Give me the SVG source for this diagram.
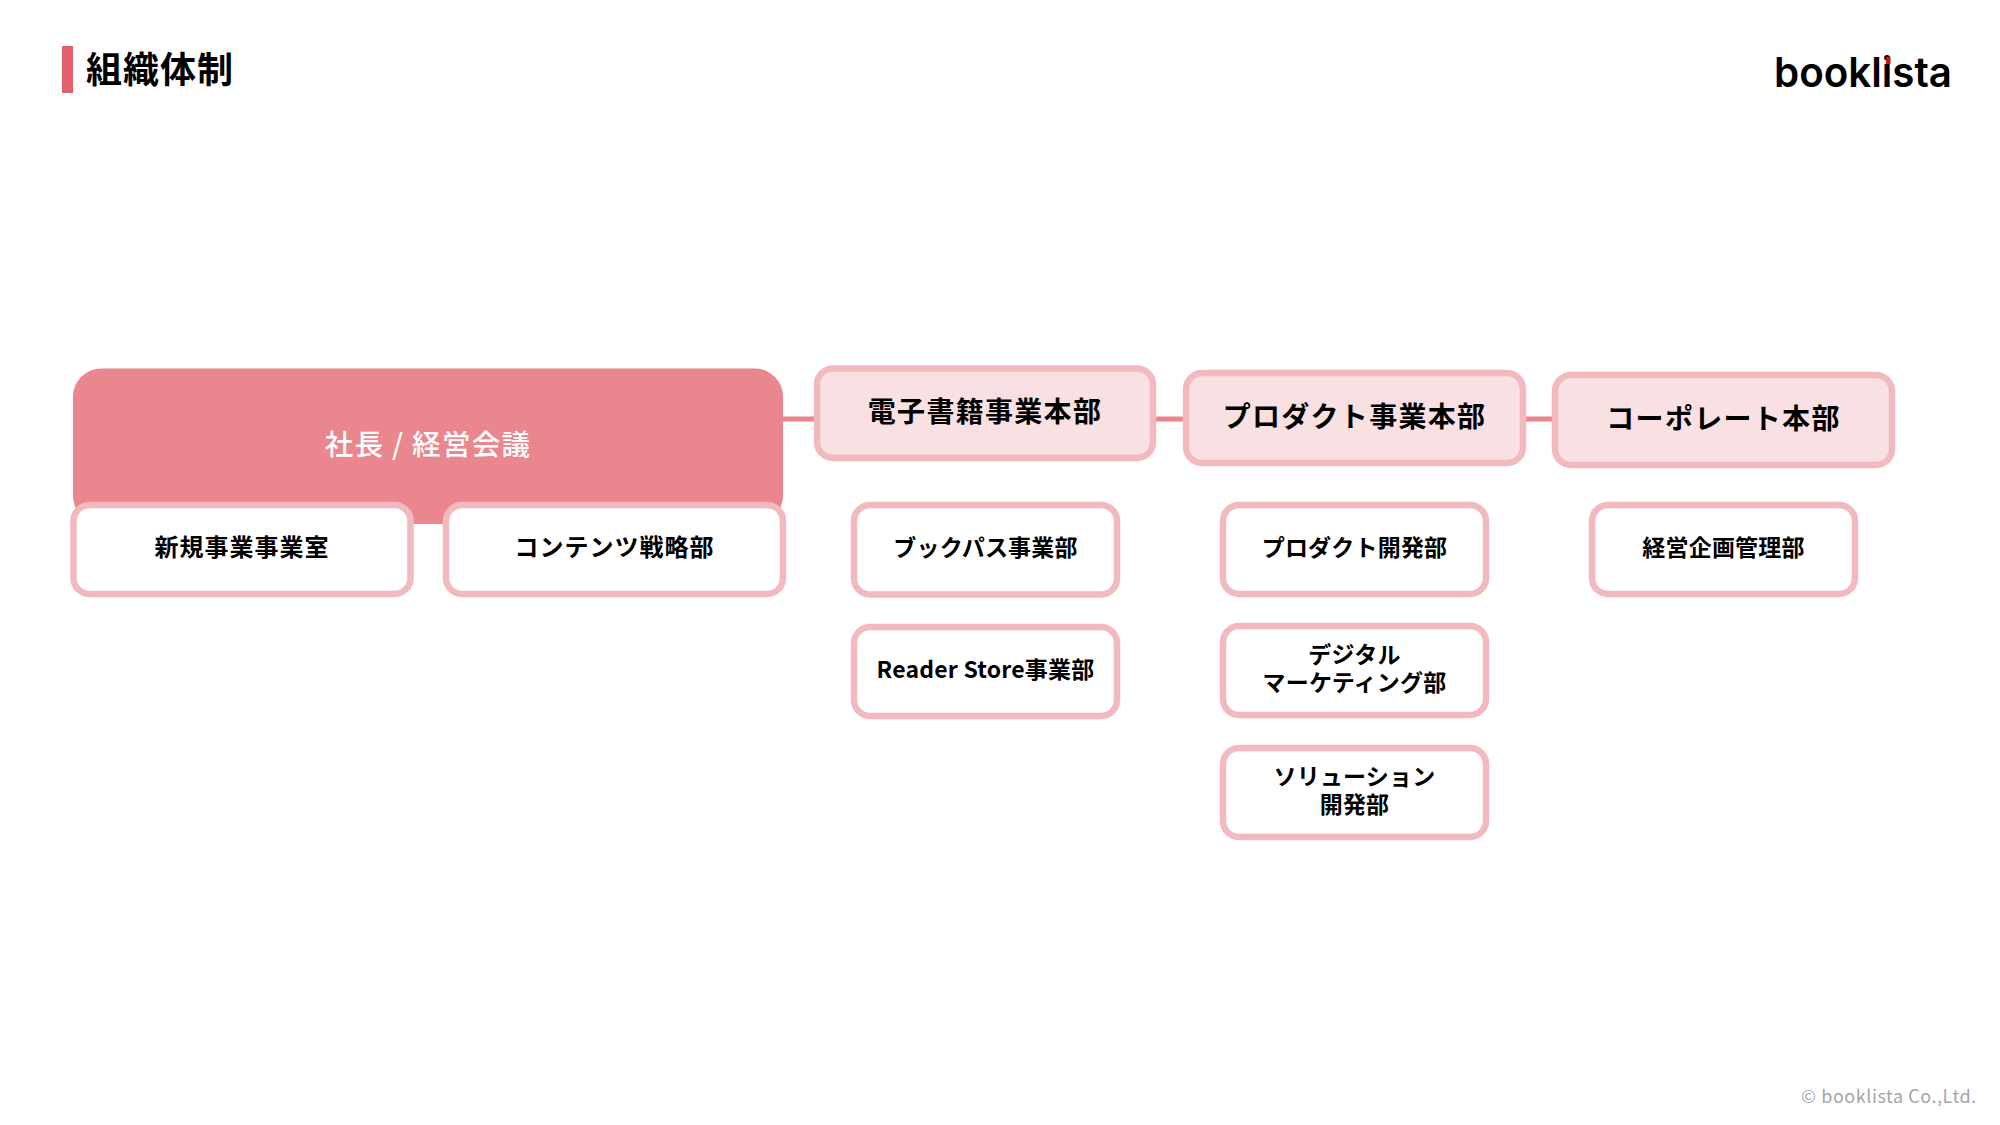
<svg xmlns="http://www.w3.org/2000/svg" width="2000" height="1125" viewBox="0 0 2000 1125">
<style>
text{font-family:"Noto Sans CJK JP","Noto Sans",sans-serif;text-anchor:middle;fill:#000}
.h rect{fill:#F9E1E3;stroke:#F2B9BE;stroke-width:6.500}
.c rect{fill:#fff;stroke:#F2B9BE;stroke-width:6.500}
.h text{font-size:28px;font-weight:700;letter-spacing:1.300px}
.c text{font-size:23px;font-weight:700;letter-spacing:.2px}
.c text.w{font-size:24px;letter-spacing:1px}
.conn{stroke:#EA868D;stroke-width:5;fill:none}
</style>
<rect width="2000" height="1125" fill="#fff"/>
<g id="title">
<rect x="62" y="46" width="11" height="47" fill="#E2626B"/>
<text x="160" y="83" style="font-size:36px;font-weight:700;letter-spacing:1px">組織体制</text>
</g>
<g id="logo">
<text x="1863" y="86.500" style="font-family:'Inter',sans-serif;font-size:41px;font-weight:600" textLength="178" lengthAdjust="spacingAndGlyphs">booklista</text>
<rect x="1886" y="57" width="4.500" height="7" fill="#C8161D"/>
</g>
<g id="connectors">
<path class="conn" d="M783 419H817M1153 419H1186M1523 419H1555"/>
</g>
<g id="president">
<rect x="73" y="368.500" width="710" height="155.500" rx="28" fill="#EA868D"/>
<text x="428" y="455" style="font-size:28.500px;font-weight:500;fill:#fff;letter-spacing:1.300px">社長 / 経営会議</text>
</g>
<g id="div-ebook" class="h"><rect x="817" y="368.500" width="336" height="89.500" rx="16"/><text x="985" y="422">電子書籍事業本部</text></g>
<g id="div-product" class="h"><rect x="1186" y="373" width="337" height="90" rx="16"/><text x="1354.500" y="427">プロダクト事業本部</text></g>
<g id="div-corporate" class="h"><rect x="1555" y="375" width="337" height="90" rx="16"/><text x="1723.500" y="429">コーポレート本部</text></g>
<g id="new-biz" class="c"><rect x="73.500" y="505" width="337" height="89" rx="16"/><text class="w" x="242" y="556">新規事業事業室</text></g>
<g id="contents" class="c"><rect x="446" y="505" width="337" height="89" rx="16"/><text class="w" x="614.500" y="556">コンテンツ戦略部</text></g>
<g id="bookpass" class="c"><rect x="854" y="505" width="263" height="89.500" rx="16"/><text x="985.500" y="556">ブックパス事業部</text></g>
<g id="reader-store" class="c"><rect x="854" y="627" width="263" height="89" rx="16"/><text x="985.500" y="678">Reader Store事業部</text></g>
<g id="product-dev" class="c"><rect x="1223" y="505" width="263" height="89" rx="16"/><text x="1354.500" y="556">プロダクト開発部</text></g>
<g id="digital-marketing" class="c"><rect x="1223" y="626" width="263" height="89" rx="16"/><text x="1354.500" y="663">デジタル<tspan x="1354.500" y="691">マーケティング部</tspan></text></g>
<g id="solution-dev" class="c"><rect x="1223" y="748" width="263" height="89" rx="16"/><text x="1354.500" y="785">ソリューション<tspan x="1354.500" y="813">開発部</tspan></text></g>
<g id="planning" class="c"><rect x="1592" y="505" width="263" height="89" rx="16"/><text x="1723.500" y="556">経営企画管理部</text></g>
<text x="1889" y="1103" style="font-size:18px;font-weight:400;fill:#A6A6A6;letter-spacing:.55px">© booklista Co.,Ltd.</text>
</svg>
